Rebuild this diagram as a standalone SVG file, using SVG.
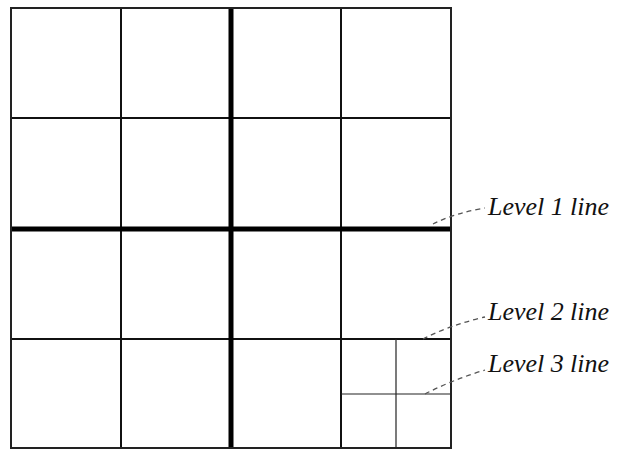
<svg xmlns="http://www.w3.org/2000/svg" width="619" height="449" viewBox="0 0 619 449">
<style>
.l0{stroke:#222;stroke-width:2;fill:none}
.l1{stroke:#000;stroke-width:5;fill:none}
.l2{stroke:#111;stroke-width:2;fill:none}
.l3{stroke:#222;stroke-width:1.2;fill:none}
.lead{stroke:#555;stroke-width:1.3;stroke-dasharray:5 4;fill:none}
.lbl{font-family:"Liberation Serif","Times New Roman",serif;font-style:italic;font-size:26px;fill:#111}
</style>
<rect width="619" height="449" fill="#fff"/>
<g id="grid">
<g id="level2">
<line class="l2" x1="121" y1="8" x2="121" y2="448"/>
<line class="l2" x1="341" y1="8" x2="341" y2="448"/>
<line class="l2" x1="11" y1="118" x2="451" y2="118"/>
<line class="l2" x1="11" y1="339" x2="451" y2="339"/>
</g>
<g id="level3">
<line class="l3" x1="396" y1="339" x2="396" y2="448"/>
<line class="l3" x1="341" y1="394" x2="451" y2="394"/>
</g>
<g id="level1">
<line class="l1" x1="231" y1="8" x2="231" y2="448"/>
<line class="l1" x1="11" y1="229" x2="451" y2="229"/>
</g>
<rect id="border" class="l0" x="11" y="8" width="440" height="440"/>
</g>
<g id="connectors">
<path class="lead" d="M433,224 Q455,213 485,208"/>
<path class="lead" d="M423,339 Q450,325 485,317"/>
<path class="lead" d="M425,394 Q452,380 485,370"/>
</g>
<g id="label1"><text class="lbl" x="488" y="215" textLength="121">Level 1 line</text></g>
<g id="label2"><text class="lbl" x="488" y="320" textLength="121">Level 2 line</text></g>
<g id="label3"><text class="lbl" x="488" y="372" textLength="121">Level 3 line</text></g>
</svg>
